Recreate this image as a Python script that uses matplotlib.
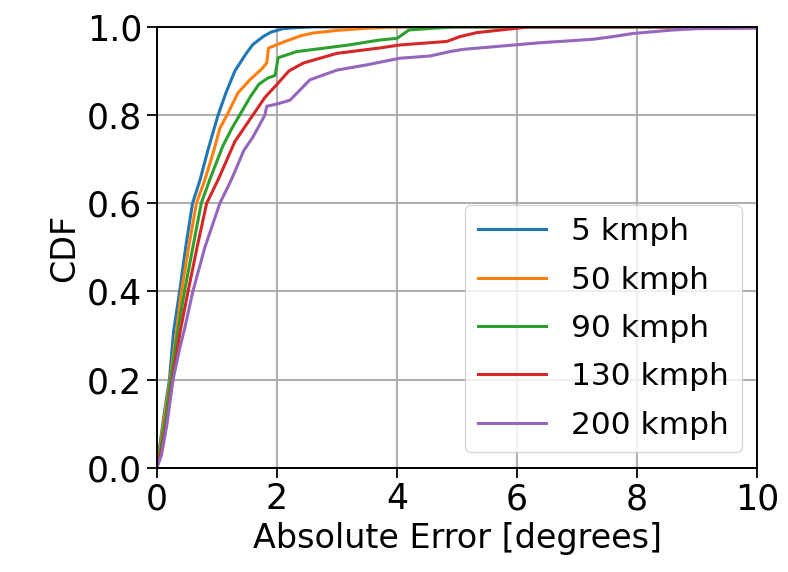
import matplotlib
matplotlib.use('Agg')
import matplotlib.pyplot as plt

# 5 kmph
x5 = [0, 0.05, 0.12, 0.21, 0.28, 0.38, 0.48, 0.595, 0.72, 0.85, 1.02, 1.15, 1.3, 1.49, 1.6, 1.77, 1.9, 2.1, 2.3, 2.6, 3.0, 10]
y5 = [0, 0.05, 0.12, 0.2, 0.31, 0.4, 0.5, 0.6, 0.653, 0.72, 0.80, 0.85, 0.90, 0.94, 0.96, 0.978, 0.988, 0.996, 0.998, 1.0, 1.0, 1.0]
# 50 kmph
x50 = [0, 0.05, 0.12, 0.22, 0.33, 0.41, 0.53, 0.66, 0.8, 0.95, 1.05, 1.17, 1.35, 1.55, 1.75, 1.83, 1.86, 2.1, 2.4, 2.6, 3.0, 3.5, 4.1, 10]
y50 = [0, 0.04, 0.11, 0.2, 0.31, 0.4, 0.5, 0.6, 0.653, 0.72, 0.77, 0.80, 0.85, 0.88, 0.905, 0.918, 0.952, 0.965, 0.98, 0.986, 0.992, 0.997, 1.0, 1.0]
# 90 kmph
x90 = [0, 0.06, 0.14, 0.23, 0.35, 0.46, 0.6, 0.74, 0.88, 1.1, 1.25, 1.38, 1.55, 1.7, 1.85, 1.97, 2.02, 2.33, 2.8, 3.2, 3.7, 4.0, 4.2, 4.6, 5.0, 10]
y90 = [0, 0.04, 0.11, 0.2, 0.31, 0.4, 0.5, 0.6, 0.653, 0.73, 0.77, 0.80, 0.84, 0.87, 0.884, 0.89, 0.93, 0.944, 0.952, 0.959, 0.97, 0.974, 0.993, 0.997, 1.0, 1.0]
# 130 kmph
x130 = [0, 0.08, 0.16, 0.26, 0.39, 0.52, 0.67, 0.83, 1.02, 1.3, 1.45, 1.6, 1.8, 1.97, 2.2, 2.44, 3.0, 3.7, 4.05, 4.83, 5.05, 5.33, 5.93, 6.2, 10]
y130 = [0, 0.04, 0.1, 0.2, 0.31, 0.4, 0.5, 0.6, 0.653, 0.74, 0.77, 0.80, 0.84, 0.865, 0.9, 0.918, 0.94, 0.952, 0.959, 0.967, 0.978, 0.987, 0.996, 1.0, 1.0]
# 200 kmph
x200 = [0, 0.08, 0.17, 0.27, 0.38, 0.47, 0.6, 0.8, 1.05, 1.24, 1.45, 1.6, 1.8, 1.83, 2.0, 2.22, 2.55, 3.0, 3.5, 4.05, 4.55, 4.88, 5.1, 6.38, 7.27, 7.6, 7.93, 8.6, 9.0, 10]
y200 = [0, 0.03, 0.1, 0.2, 0.27, 0.32, 0.4, 0.5, 0.6, 0.653, 0.72, 0.75, 0.80, 0.82, 0.825, 0.834, 0.88, 0.902, 0.914, 0.929, 0.934, 0.944, 0.949, 0.964, 0.972, 0.978, 0.985, 0.993, 0.996, 0.997]

labels = ['5 kmph', '50 kmph', '90 kmph', '130 kmph', '200 kmph']
colors = ['#1f77b4', '#ff7f0e', '#2ca02c', '#d62728', '#9467bd']

fig = plt.figure(figsize=(7.88, 5.72), dpi=100)
ax = fig.add_axes([0.199, 0.182, 0.762, 0.771])

series = [(x5, y5), (x50, y50), (x90, y90), (x130, y130), (x200, y200)]
for (xs, ys), lab, c in zip(series, labels, colors):
    ax.plot(xs, ys, color=c, linewidth=2.2, label=lab)

ax.set_xlim(0, 10)
ax.set_ylim(0, 1.0)
ax.set_xticks([0, 2, 4, 6, 8, 10])
ax.set_yticks([0.0, 0.2, 0.4, 0.6, 0.8, 1.0])
ax.grid(True, color='#b0b0b0', linewidth=1.5)
ax.set_axisbelow(True)
ax.tick_params(axis='both', labelsize=25, length=7, width=1.3, direction='out')
for s in ax.spines.values():
    s.set_linewidth(1.4)
ax.set_xlabel('Absolute Error [degrees]', fontsize=24)
ax.set_ylabel('CDF', fontsize=24)
ax.legend(loc='lower right', fontsize=22.5, handlelength=2.2, framealpha=0.8,
          labelspacing=0.62)

fig.savefig('out.png', dpi=100)
